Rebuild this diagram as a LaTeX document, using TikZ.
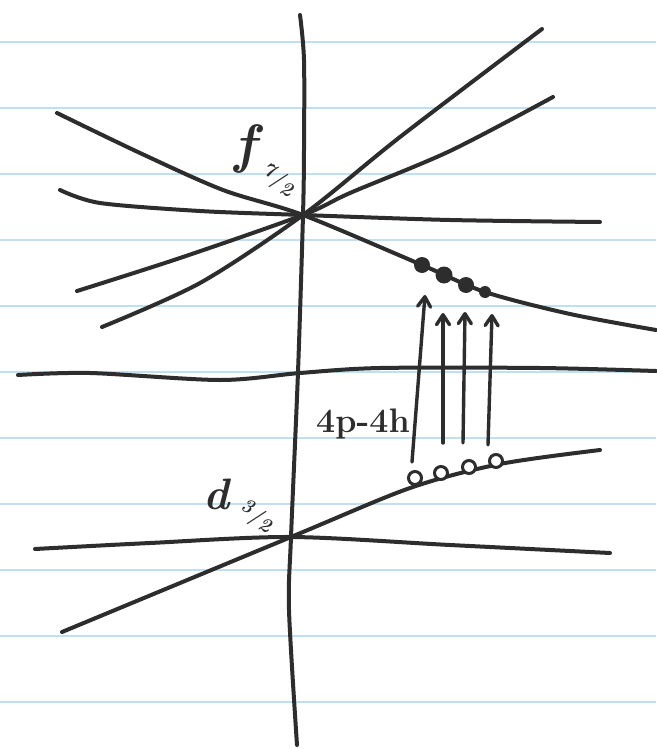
\documentclass[tikz,border=0pt]{standalone}
\usepackage{graphicx}
\usetikzlibrary{arrows.meta}
\definecolor{ruleblue}{RGB}{192,223,240}
\definecolor{inkc}{RGB}{45,45,45}
\newcommand{\slfrac}[2]{\rotatebox{-25}{\raisebox{5pt}{#1}/\raisebox{-5pt}{#2}}}
\begin{document}
\begin{tikzpicture}[x=1pt,y=-1pt,
  rule/.style={draw=ruleblue, line width=2.4pt},
  ink/.style={draw=inkc, line width=4pt, line cap=round, line join=round},
  level/.style={ink, smooth, tension=0.5},
  uparrow/.style={draw=inkc, line width=3.4pt, line cap=round,
    -{Straight Barb[length=10pt,width=13pt,line width=3.4pt,round]}},
  fulldot/.style={circle, fill=inkc, inner sep=0pt},
  hole/.style={circle, draw=inkc, line width=3pt, fill=white, inner sep=0pt, minimum size=13pt},
  lbl/.style={text=inkc, inner sep=0pt}]
\useasboundingbox (0,0) rectangle (656,749);
\fill[white] (0,0) rectangle (656,749);
% ruled notebook lines
\foreach \k in {0,...,10}{
  \draw[rule] (0,42+66*\k) -- (656,42+66*\k);
}
% crossing points
\coordinate (fX) at (303,215);
\coordinate (dX) at (291,537);
% vertical axis
\draw[level] plot coordinates {(300,15) (304,60) (304,150) (fX) (298,372) (dX) (289,610) (297,745)};
% levels through f crossing
\draw[level] plot coordinates {(57,113) (140,153) (223,190) (fX) (422,265) (485,292) (570,314) (656,330)};
\draw[level] plot coordinates {(60,190) (100,203) (200,211) (fX) (450,220) (600,222)};
\draw[level] plot coordinates {(77,291) (180,258) (fX) (350,193) (450,151) (553,97)};
\draw[level] plot coordinates {(102,327) (200,283) (fX) (400,137) (542,29)};
% middle line
\draw[level] plot coordinates {(18,375) (90,373) (220,380) (300,373) (380,368) (540,368) (656,371)};
% levels through d crossing
\draw[level] plot coordinates {(35,549) (150,543) (dX) (450,545) (610,553)};
\draw[level] plot coordinates {(62,632) (dX) (410,488) (500,464) (600,450)};
% filled dots (particles)
\node[fulldot, minimum size=16pt] (p1) at (422,265) {};
\node[fulldot, minimum size=17pt] (p2) at (444,275) {};
\node[fulldot, minimum size=16pt] (p3) at (466,285) {};
\node[fulldot, minimum size=12pt] (p4) at (485,292) {};
% holes
\node[hole] (h1) at (415,478) {};
\node[hole] (h2) at (441,473) {};
\node[hole] (h3) at (469,467) {};
\node[hole] (h4) at (496,461) {};
% excitation arrows
\coordinate (a1b) at (412,462); \coordinate (a1t) at (425,295);
\coordinate (a2b) at (443,443); \coordinate (a2t) at (443,313);
\coordinate (a3b) at (463,443); \coordinate (a3t) at (465,312);
\coordinate (a4b) at (488,445); \coordinate (a4t) at (492,314);
\draw[uparrow] (a1b) -- (a1t);
\draw[uparrow] (a2b) -- (a2t);
\draw[uparrow] (a3b) -- (a3t);
\draw[uparrow] (a4b) -- (a4t);
% labels
\node[lbl, anchor=base west] (flab) at (234,162)
  {\fontsize{54}{54}\selectfont\bfseries\itshape f\kern1pt\fontsize{20}{20}\selectfont\raisebox{-16pt}{\slfrac{7}{2}}};
\node[lbl, anchor=base west] (dlab) at (203,509)
  {\fontsize{44}{44}\selectfont\bfseries\itshape d\kern6pt\fontsize{20}{20}\selectfont\raisebox{-5pt}{\slfrac{3}{2}}};
\node[lbl, font=\fontsize{34}{34}\selectfont\bfseries] (ph) at (363,424) {4p-4h};
\end{tikzpicture}
\end{document}
